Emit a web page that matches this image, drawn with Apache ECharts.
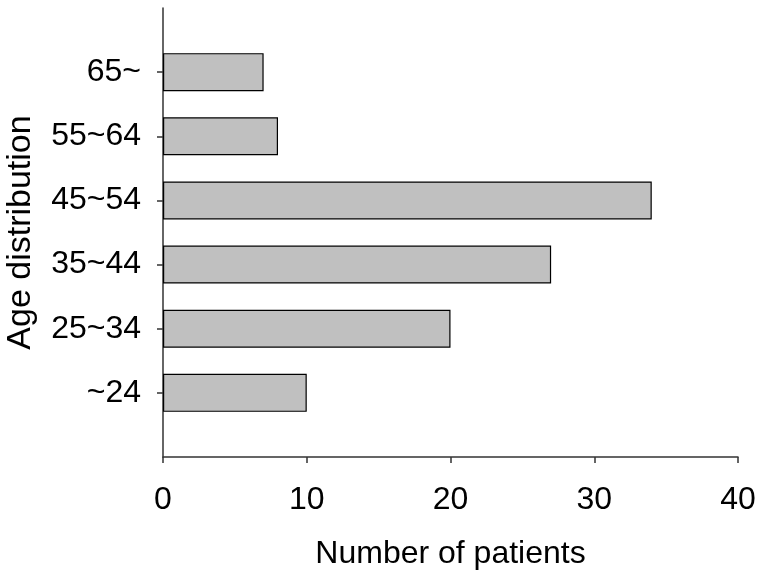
<!DOCTYPE html>
<html>
<head>
<meta charset="utf-8">
<script src="https://cdn.jsdelivr.net/npm/echarts@6/dist/echarts.min.js"></script>
<style>
  html, body { margin: 0; padding: 0; background: #fff; }
  #main { width: 763px; height: 582px; }
</style>
</head>
<body>
<div id="main"></div>
<script>
// age groups, with empty slots at both ends for the padding
var ageGroups = ["", "~24", "25~34", "35~44", "45~54", "55~64", "65~", ""];
var patients = ["-", 10, 20, 27, 34, 8, 7, "-"];
var xTicks = [0, 10, 20, 30, 40];

var myChart = echarts.init(document.getElementById("main"));
var font = "'Liberation Sans', Arial, sans-serif";

var option = {
  animation: false,
  backgroundColor: "#fff",
  grid: {
    left: 163,
    right: 25,
    top: 8,
    bottom: 125,
    containLabel: false,
    outerBoundsMode: "none"
  },
  xAxis: {
    type: "value",
    min: xTicks[0],
    max: xTicks[xTicks.length - 1],
    interval: 10,
    name: "Number of patients",
    nameLocation: "middle",
    nameGap: 81,
    nameTextStyle: { fontFamily: font, fontSize: 32, color: "#000" },
    axisLine: { show: true, lineStyle: { color: "#333", width: 1.5 } },
    axisTick: { show: true, length: 6, lineStyle: { color: "#333", width: 1.5 } },
    axisLabel: { fontFamily: font, fontSize: 32, color: "#000", margin: 27 },
    splitLine: { show: false }
  },
  yAxis: {
    type: "category",
    data: ageGroups,
    boundaryGap: false,
    name: "Age distribution",
    nameLocation: "middle",
    nameGap: 125,
    nameTextStyle: { fontFamily: font, fontSize: 34, color: "#000" },
    axisLine: { show: true, lineStyle: { color: "#333", width: 1.5 } },
    axisTick: {
      show: true,
      length: 6,
      interval: function (index, value) { return value !== ""; },
      lineStyle: { color: "#333", width: 1.5 }
    },
    axisLabel: { fontFamily: font, fontSize: 32, color: "#000", margin: 22 },
    splitLine: { show: false }
  },
  series: [
    {
      type: "bar",
      data: patients,
      barWidth: 38,
      itemStyle: {
        color: "#c0c0c0",
        borderColor: "#000",
        borderWidth: 1.2
      }
    }
  ]
};
myChart.setOption(option);
</script>
</body>
</html>
